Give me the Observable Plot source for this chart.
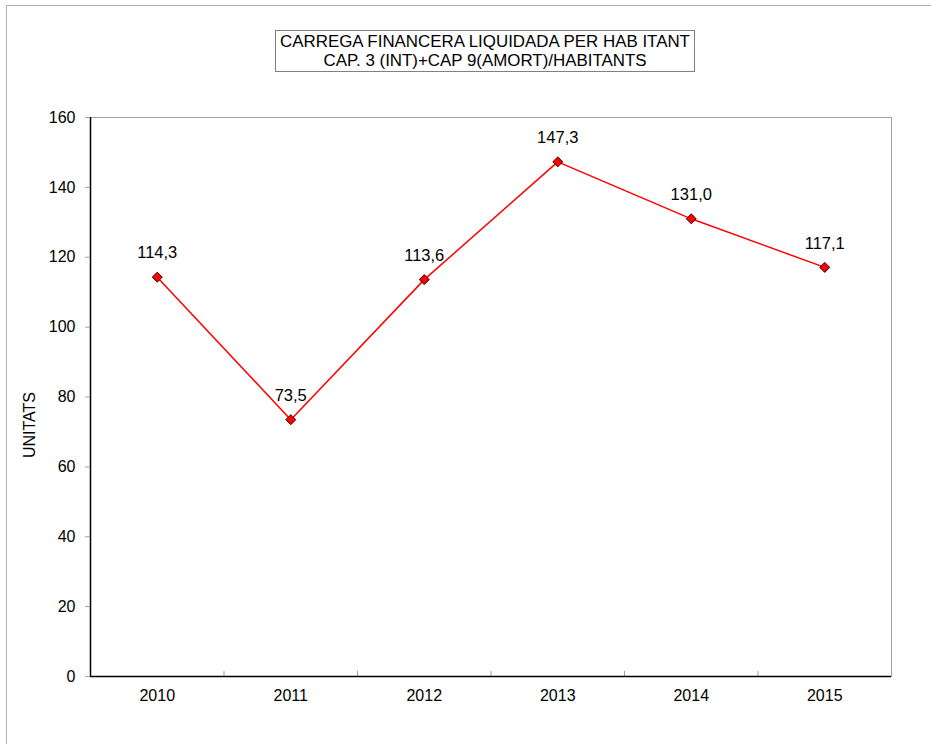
<!DOCTYPE html>
<html>
<head>
<meta charset="utf-8">
<script src="https://cdn.jsdelivr.net/npm/d3@7"></script>
<script src="https://cdn.jsdelivr.net/npm/@observablehq/plot@0.6"></script>
<style>
  html, body { margin: 0; padding: 0; background: #fff; overflow: hidden; }
  #wrap { position: relative; width: 931px; height: 744px; font-family: "Liberation Sans", Arial, sans-serif; }
  #border { position: absolute; left: 6px; top: 5px; width: 940px; height: 760px; border: 1px solid #b0b0b0; box-sizing: border-box; }
  #title { position: absolute; left: 275px; top: 30px; width: 420px; height: 42px; border: 1px solid #808080; box-sizing: border-box;
           text-align: center; font-size: 16.9px; line-height: 19px; padding-top: 1px; color: #000; background: #fff; white-space: nowrap; }
  #ylabel { position: absolute; left: 30px; top: 425px; transform: translate(-50%, -50%) rotate(-90deg); font-size: 16px; color: #000; white-space: nowrap; }
  #chart { position: absolute; left: 0; top: 0; }
</style>
</head>
<body>
<div id="wrap">
  <div id="border"></div>
  <div id="chart"></div>
  <div id="title">CARREGA FINANCERA LIQUIDADA PER HAB ITANT<br>CAP. 3 (INT)+CAP 9(AMORT)/HABITANTS</div>
  <div id="ylabel"></div>
</div>
<script>
const years = [2010, 2011, 2012, 2013, 2014, 2015];
const values = [114.3, 73.5, 113.6, 147.3, 131.0, 117.1];
const yTicks = [0, 20, 40, 60, 80, 100, 120, 140, 160];
const yLabel = "UNITATS";

document.getElementById("ylabel").textContent = yLabel;

const data = years.map((y, i) => ({year: y, value: values[i]}));
const bounds = years.slice(0, -1).map(y => y + 0.5);
const fmt = v => v.toFixed(1).replace(".", ",");

const chart = Plot.plot({
  width: 931,
  height: 744,
  marginLeft: 90,
  marginRight: 40,
  marginTop: 117,
  marginBottom: 68,
  style: {fontFamily: "'Liberation Sans', Arial, sans-serif", fontSize: "16px", color: "#000", background: "transparent"},
  x: {type: "linear", domain: [years[0] - 0.5, years[years.length - 1] + 0.5]},
  y: {domain: [0, 160]},
  marks: [
    Plot.frame({stroke: "#a0a0a0"}),
    Plot.ruleX(bounds, {y1: 0, y2: 0, insetTop: -5, stroke: "#a0a0a0"}),
    Plot.ruleY([0], {stroke: "#000", strokeWidth: 1.5}),
    Plot.ruleX([years[0] - 0.5], {stroke: "#000", strokeWidth: 1.5}),
    Plot.axisY({ticks: yTicks, tickSize: 5, tickPadding: 10, stroke: "#a0a0a0", label: null, fontSize: 16}),
    Plot.axisX({ticks: years, tickSize: 0, tickPadding: 13, tickFormat: d => String(d), label: null, fontSize: 16}),
    Plot.line(data, {x: "year", y: "value", stroke: "#ff0000", strokeWidth: 1.5}),
    Plot.dot(data, {x: "year", y: "value", symbol: "diamond2", r: 4.5, fill: "#ff0000", stroke: "#300000", strokeWidth: 1}),
    Plot.text(data, {x: "year", y: "value", text: d => fmt(d.value), dy: -24, fontSize: 16.5})
  ]
});
document.getElementById("chart").appendChild(chart);
</script>
</body>
</html>
